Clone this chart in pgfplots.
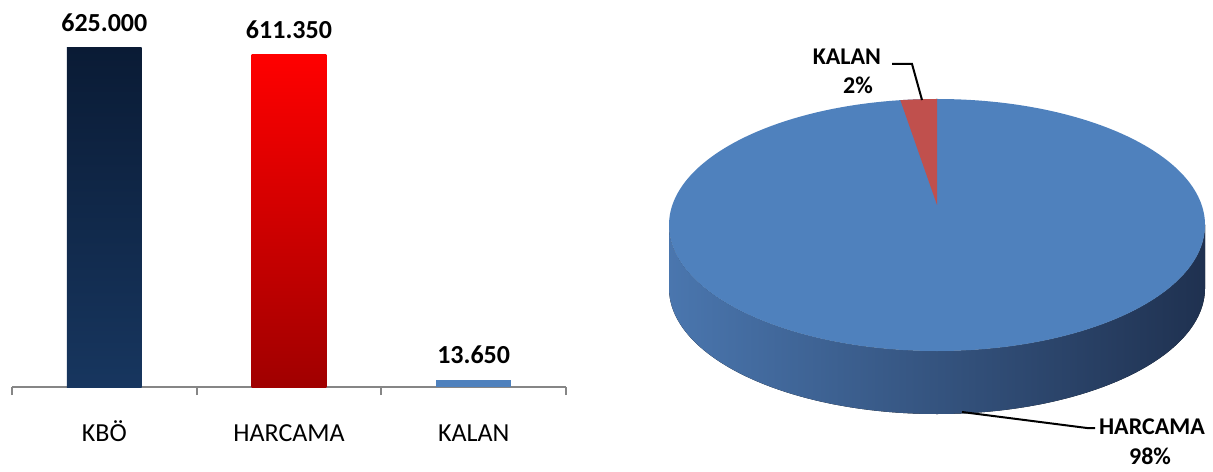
\documentclass[border=0pt]{standalone}
\usepackage{fontspec}
\setmainfont{Carlito}
\usepackage{pgfplots}
\pgfplotsset{compat=1.18}

\definecolor{kboTop}{HTML}{0A1B35}
\definecolor{kboBot}{HTML}{17365F}
\definecolor{harTop}{HTML}{FF0000}
\definecolor{harBot}{HTML}{A00000}
\definecolor{kalanC}{HTML}{4F81BD}
\definecolor{pieBlue}{HTML}{4F81BD}
\definecolor{pieRed}{HTML}{C0504D}
\definecolor{sideL}{HTML}{4A76AE}
\definecolor{sideR}{HTML}{1F3150}
\definecolor{axisGray}{HTML}{868686}

% pie values, in thousands
\def\vHarcama{611.350}
\def\vKalan{13.650}

\begin{document}
\begin{tikzpicture}[x=0.5pt,y=0.5pt]
% page frame (1 unit = 1 px of the reference)
\path (0,0) rectangle (1213,471);

% ---- bar chart ----
\begin{axis}[
  at={(6pt,42pt)}, anchor=south west,
  scale only axis, width=277pt, height=190.4pt,
  xmin=-0.5, xmax=2.5, ymin=0, ymax=700000,
  ybar, bar width=0.405,
  axis x line*=bottom, axis y line=none,
  axis line style={axisGray, line width=0.9pt, -},
  xtick={-0.5,0.5,1.5,2.5},
  x tick label as interval,
  xticklabels={KBÖ,HARCAMA,KALAN},
  tick align=outside, major tick length=4pt,
  x tick style={axisGray, line width=0.9pt},
  xticklabel style={font=\fontsize{13}{15}\selectfont, anchor=base, inner sep=1pt, yshift=-23pt},
  ytick=\empty,
  clip=false,
  nodes near coords={\pgfmathprintnumber[fixed,precision=0,1000 sep={.},assume math mode=true]{\pgfplotspointmeta}},
  every node near coord/.append style={font=\bfseries\fontsize{13}{15}\selectfont, black, anchor=south, inner sep=1pt, yshift=6.5pt},
]
\addplot[draw=none, bar shift=0pt, top color=kboTop, bottom color=kboBot] coordinates {(0,625000)};
\addplot[draw=none, bar shift=0pt, top color=harTop, bottom color=harBot] coordinates {(1,611350)};
\addplot[draw=none, bar shift=0pt, fill=kalanC] coordinates {(2,13650)};
\end{axis}

% ---- 3D pie ----
\begin{axis}[
  at={(468.5pt,123pt)}, anchor=center,
  x=0.5pt, y=0.5pt,
  xmin=-270, xmax=270, ymin=-220, ymax=220,
  hide axis, clip=false,
]
\pgfmathsetmacro{\aK}{360*(\vKalan/(\vHarcama+\vKalan))}
\pgfmathsetmacro{\pK}{100*(\vKalan/(\vHarcama+\vKalan))}
\pgfmathsetmacro{\pH}{100*(\vHarcama/(\vHarcama+\vKalan))}
% side wall
\fill[left color=sideL, right color=sideR]
  (-268,0) arc[start angle=180, end angle=360, x radius=268, y radius=126]
  -- (268,-63) arc[start angle=360, end angle=180, x radius=268, y radius=126]
  -- cycle;
% top face
\fill[pieBlue] (0,0) ellipse[x radius=268, y radius=126];
% KALAN slice
\fill[pieRed] (0,20) -- (0,126)
  arc[start angle=90, end angle={90+\aK}, x radius=268, y radius=126] -- cycle;
% leaders
\draw[black, line width=1pt] (-45,161) -- (-25,161) -- (-15,125);
\draw[black, line width=1pt] (25,-187) -- (150,-203) -- (158,-203);
% labels
\node[font=\bfseries\fontsize{12}{14}\selectfont, anchor=east] at (-49,168) {KALAN};
\node[font=\bfseries\fontsize{12}{14}\selectfont] at (-79,140) {\pgfmathprintnumber[fixed,precision=0,assume math mode=true]{\pK}\%};
\node[font=\bfseries\fontsize{12}{14}\selectfont, anchor=west] at (155,-202) {HARCAMA};
\node[font=\bfseries\fontsize{12}{14}\selectfont, inner sep=1pt] at (213,-231) {\pgfmathprintnumber[fixed,precision=0,assume math mode=true]{\pH}\%};
\end{axis}
\end{tikzpicture}
\end{document}
